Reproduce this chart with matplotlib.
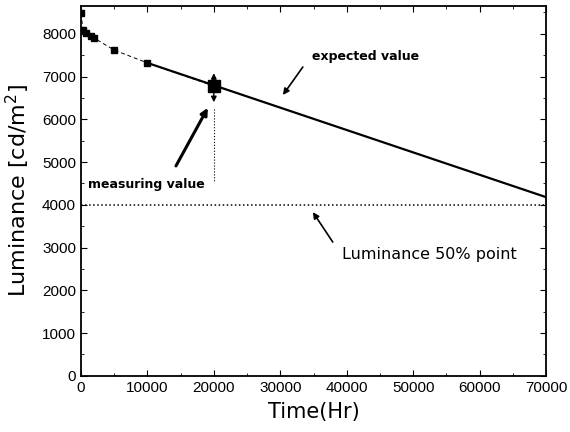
import numpy as np
import matplotlib
matplotlib.use("Agg")
import matplotlib.pyplot as plt
from matplotlib.ticker import MultipleLocator

plt.rcParams['font.family'] = ['Liberation Sans', 'DejaVu Sans']

# measured luminance over operating time
time_hr = [0, 300, 800, 1500, 2000, 5000, 10000]
luminance = [8480, 8100, 8030, 7950, 7900, 7620, 7320]

# measuring point at 20000 hr with its spread
meas_time = 20000
meas_value = 6780
meas_low, meas_high = 6400, 7080

# extrapolated (expected) decay line
exp_time = [10000, 70000]
exp_value = [7320, 4180]

half_point = 4000

fig = plt.figure(figsize=(5.7, 4.32), dpi=100)
ax = fig.add_axes([0.142, 0.130, 0.816, 0.856])

ax.plot(time_hr + [meas_time], luminance + [meas_value], color='black',
        linestyle=(0, (4, 3)), linewidth=0.7, marker='s', markersize=4.5)
ax.plot(exp_time, exp_value, color='black', linewidth=1.6)
ax.plot([meas_time], [meas_value], marker='s', markersize=9, color='black')
ax.axhline(half_point, color='black', linestyle=':', linewidth=1.1)

# spread of the measuring value
ax.annotate('', xy=(meas_time, meas_high), xytext=(meas_time, meas_low),
            arrowprops=dict(arrowstyle='<|-|>', color='black', lw=1.0,
                            mutation_scale=8, shrinkA=0, shrinkB=0))
ax.plot([meas_time, meas_time], [6250, 4560], color='black',
        linestyle=':', linewidth=0.8)

thin = dict(arrowstyle='-|>', color='black', lw=1.2, mutation_scale=9,
            shrinkA=0, shrinkB=0)
ax.annotate('', xy=(30400, 6570), xytext=(33400, 7225), arrowprops=thin)
ax.annotate('', xy=(34900, 3830), xytext=(37900, 3130), arrowprops=thin)
ax.annotate('', xy=(19100, 6270), xytext=(14300, 4910),
            arrowprops=dict(arrowstyle='-|>', color='black', lw=2.2,
                            mutation_scale=10, shrinkA=0, shrinkB=0))

ax.text(34770, 7460, 'expected value', fontsize=9, fontweight='bold',
        family='DejaVu Sans', va='center', ha='left')
ax.text(1050, 4465, 'measuring value', fontsize=9, fontweight='bold',
        family='DejaVu Sans', va='center', ha='left')
ax.text(39290, 2830, 'Luminance 50% point', fontsize=11.5,
        family='DejaVu Sans', va='center', ha='left')

ax.set_xlim(0, 70000)
ax.set_ylim(0, 8650)
ax.xaxis.set_major_locator(MultipleLocator(10000))
ax.xaxis.set_minor_locator(MultipleLocator(5000))
ax.yaxis.set_major_locator(MultipleLocator(1000))
ax.yaxis.set_minor_locator(MultipleLocator(500))
ax.tick_params(which='both', direction='in', top=True, right=True,
               labelsize=11)
ax.tick_params(which='major', length=4)
ax.tick_params(which='minor', length=2)
for s in ax.spines.values():
    s.set_linewidth(1.3)

ax.set_xlabel('Time(Hr)', fontsize=15, family='DejaVu Sans', labelpad=5)
ax.set_ylabel('Luminance [cd/m$^2$]', fontsize=16, family='DejaVu Sans',
              labelpad=7)

fig.savefig('out.png', dpi=100)
